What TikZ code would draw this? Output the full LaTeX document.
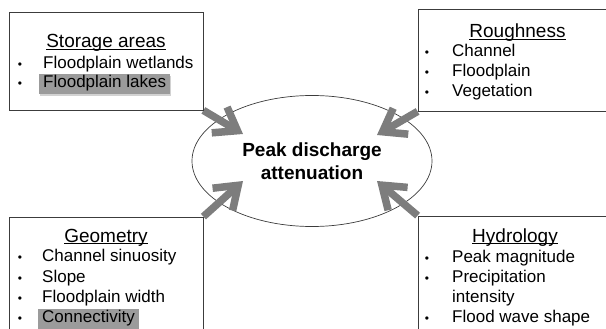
\documentclass[tikz,border=0pt]{standalone}
\usepackage{fontspec}
\setmainfont{Liberation Sans}
\usepackage{tikz}
\usetikzlibrary{arrows.meta}
\usetikzlibrary{backgrounds}
\usetikzlibrary{shapes.geometric}
\usetikzlibrary{shadows}
\definecolor{boxline}{RGB}{60,60,60}
\definecolor{arrowgray}{RGB}{125,125,125}
\definecolor{markgray}{RGB}{155,155,155}
% underline that runs through the descenders
\newcommand\titleline[1]{\setbox0\hbox{#1}\rlap{\rule[-2pt]{\wd0}{0.9pt}}\box0}

\begin{document}
\begin{tikzpicture}[x=1pt, y=-1pt,
    box/.style={draw=boxline, line width=0.8pt, fill=white, inner sep=0pt},
    title/.style={anchor=base, font=\fontsize{19}{19}\selectfont, inner sep=0pt},
    item/.style={anchor=base west, font=\fontsize{17}{17}\selectfont, inner xsep=4pt, inner ysep=1.5pt, text height=12pt, text depth=5pt},
    dot/.style={anchor=base, font=\fontsize{12}{12}\selectfont, inner sep=0pt},
    marked/.style={fill=markgray, drop shadow={shadow xshift=0.5pt, shadow yshift=-1.5pt, opacity=0.35}},
    flow/.style={draw=arrowgray, line width=7.5pt, -{Straight Barb[length=21pt, width=30pt]}}]

    % Size of the picture
    \useasboundingbox (0,0) rectangle (606,329);
    \clip (0,0) rectangle (606,329);

    % The four boxes
    \node[box, minimum width=194pt, minimum height=98pt] (storage) at (106,61) {};
    \node[box, minimum width=199pt, minimum height=102pt] (rough) at (517.5,60) {};
    \node[box, minimum width=194pt, minimum height=123pt] (geom) at (106,278.5) {};
    \node[box, minimum width=199pt, minimum height=124pt] (hydro) at (517.5,278) {};

    % Storage areas
    \node[title] (storageT) at (106,48) {\titleline{Storage areas}};
    \node[dot] (storageD1) at (20,68.5) {\textbullet};
    \node[dot] (storageD2) at (20,88) {\textbullet};
    \node[item] (storage1) at (39,68.5) {Floodplain wetlands};
    \node[item, marked] (storage2) at (39,88) {Floodplain lakes};

    % Roughness
    \node[title] (roughT) at (517.5,37.5) {\titleline{Roughness}};
    \node[dot] (roughD1) at (427,57) {\textbullet};
    \node[dot] (roughD2) at (427,77) {\textbullet};
    \node[dot] (roughD3) at (427,97) {\textbullet};
    \node[item] (rough1) at (448,57) {Channel};
    \node[item] (rough2) at (448,77) {Floodplain};
    \node[item] (rough3) at (448,97) {Vegetation};

    % Geometry
    \node[title] (geomT) at (106,242) {\titleline{Geometry}};
    \node[dot] (geomD1) at (20,261.5) {\textbullet};
    \node[dot] (geomD2) at (20,282) {\textbullet};
    \node[dot] (geomD3) at (20,302) {\textbullet};
    \node[dot] (geomD4) at (20,322) {\textbullet};
    \node[item] (geom1) at (38,261.5) {Channel sinuosity};
    \node[item] (geom2) at (38,282) {Slope};
    \node[item] (geom3) at (38,302) {Floodplain width};
    \node[item, marked] (geom4) at (38,322) {Connectivity};

    % Hydrology
    \node[title] (hydroT) at (515,242) {\titleline{Hydrology}};
    \node[dot] (hydroD1) at (427,262) {\textbullet};
    \node[dot] (hydroD2) at (427,282) {\textbullet};
    \node[dot] (hydroD4) at (427,322) {\textbullet};
    \node[item] (hydro1) at (448,262) {Peak magnitude};
    \node[item] (hydro2) at (448,282) {Precipitation};
    \node[item] (hydro3) at (448,302) {intensity};
    \node[item] (hydro4) at (448,322) {Flood wave shape};

    \begin{scope}[on background layer]
      % The centre ellipse
      \node[ellipse, draw=boxline, line width=0.7pt, minimum width=240pt, minimum height=131pt,
            inner sep=0pt, align=center, font=\bfseries\fontsize{19}{23}\selectfont]
            (peak) at (312,161) {Peak discharge\\attenuation};

      % Arrow tips inside the ellipse
      \coordinate (tipS) at (243,134);
      \coordinate (tipR) at (377,135);
      \coordinate (tipG) at (243,181);
      \coordinate (tipH) at (377,181);

      % Arrows from the box corners
      \draw[flow] (storage.south east) -- (tipS);
      \draw[flow] (rough.south west) -- (tipR);
      \draw[flow] (geom.north east) -- (tipG);
      \draw[flow] (hydro.north west) -- (tipH);
    \end{scope}
\end{tikzpicture}
\end{document}
